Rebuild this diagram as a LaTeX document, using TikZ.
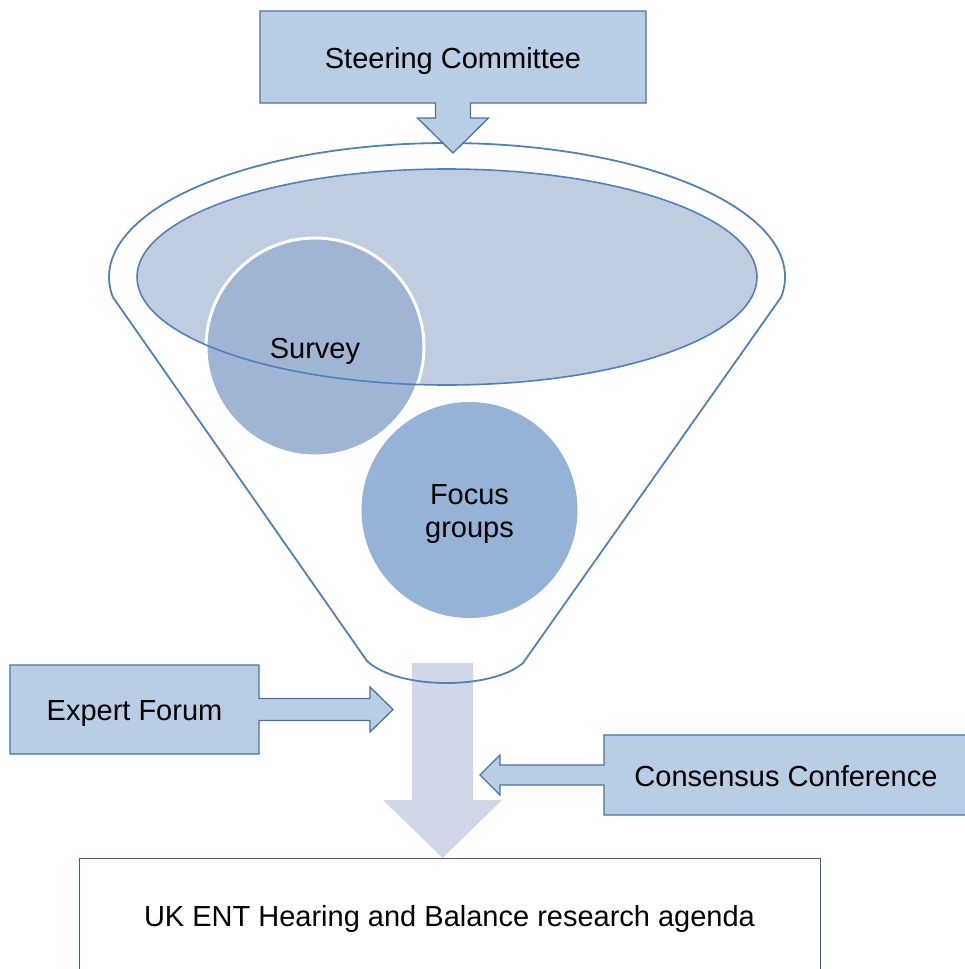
\documentclass[tikz,border=0pt]{standalone}
\usepackage{fontspec}
\setmainfont{Liberation Sans}
\usetikzlibrary{calc,backgrounds}
\definecolor{boxfill}{HTML}{B9CDE5}
\definecolor{boxline}{HTML}{4A72A8}
\definecolor{funnelline}{HTML}{4F81BD}
\definecolor{bowlfill}{HTML}{C0CCE0}
\definecolor{surveyfill}{HTML}{A0B4D4}
\definecolor{focusfill}{HTML}{95B3D7}
\definecolor{flowfill}{HTML}{CFD7E8}
\definecolor{agendaline}{HTML}{3A5F95}
\begin{document}
\begin{tikzpicture}
[x=1pt,y=-1pt,%
  textdecorate/.style={font=\fontsize{29}{33}\selectfont,align=center,inner sep=0pt,outer sep=0pt,
    execute at begin node={\rule[-7pt]{0pt}{36pt}}},%
  boxdecorate/.style={textdecorate,shape=rectangle},%
  calloutdecorate/.style={fill=boxfill,draw=boxline,line width=1.3pt,line join=miter},%
  funneldecorate/.style={draw=funnelline,line width=1.8pt,line join=round},%
  circledecorate/.style={textdecorate,shape=circle}]
\useasboundingbox (0,0) rectangle (965,969);
%% text boxes
\node (steer) at (453,57) [boxdecorate,minimum width=386pt,minimum height=92pt] {Steering Committee};
\node (expert) at (134.5,709.5) [boxdecorate,minimum width=249pt,minimum height=89pt] {Expert Forum};
\node (consensus) at (786,775) [boxdecorate,minimum width=364pt,minimum height=80pt] {Consensus Conference};
\node (agenda) at (449.5,915) [boxdecorate,minimum width=741pt,minimum height=114pt,
  fill=white,draw=agendaline,line width=1pt] {UK ENT Hearing and Balance research agenda};
\coordinate (bowl) at (447,277);
\coordinate (spout) at (442.5,663);
%% survey sits on the bowl
\node (survey) at (315,347) [circledecorate,minimum size=218pt,fill=surveyfill,draw=white,line width=3pt] {Survey};
\draw[funnelline,line width=1.6pt] (bowl) ellipse[x radius=310,y radius=108];
\node (focus) at (469.5,510) [circledecorate,minimum size=216pt,fill=focusfill] {\rule{0pt}{29pt}Focus\\groups};
\begin{scope}[on background layer]
%% flow down the spout
\fill[flowfill] (spout) ++(-30.5,0) -- ++(61,0) -- ++(0,137) -- ++(29,0)
  -- (spout |- agenda.north) -- ++(-59.5,-58) -- ++(29,0) -- cycle;
%% funnel
\path[funneldecorate] ($(bowl)+(8.6:338 and 134)$)
  arc[start angle=8.6,end angle=-188.6,x radius=338,y radius=134]
  -- (367,661) .. controls (398,690) and (492,690) .. (523,663) -- cycle;
\fill[bowlfill] (bowl) ellipse[x radius=310,y radius=108];
%% callouts
\path[calloutdecorate] (steer.south west) -- (steer.north west) -- (steer.north east)
  -- (steer.south east) -- ($(steer.south)+(17.5,0)$) -- ++(0,15) -- ++(18,0)
  -- ($(steer.south)+(0,50)$) -- ++(-35.5,-35) -- ++(18,0) -- ++(0,-15) -- cycle;
\path[calloutdecorate] (expert.north east) -- (expert.north west) -- (expert.south west)
  -- (expert.south east) -- ($(expert.east)+(0,11)$) -- ++(111,0) -- ++(0,11.5)
  -- ($(expert.east)+(134,0)$) -- ++(-23,-22.5) -- ++(0,11.5) -- ++(-111,0) -- cycle;
\path[calloutdecorate] (consensus.north west) -- (consensus.north east) -- (consensus.south east)
  -- (consensus.south west) -- ($(consensus.west)+(0,10)$) -- ++(-104,0) -- ++(0,10)
  -- ($(consensus.west)+(-124,0)$) -- ++(20,-20) -- ++(0,10) -- ++(104,0) -- cycle;
\end{scope}
\end{tikzpicture}
\end{document}
